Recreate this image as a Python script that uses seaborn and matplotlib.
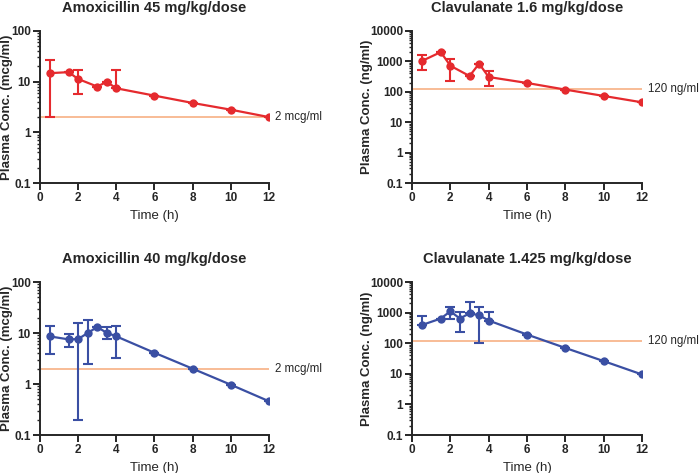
import numpy as np
import pandas as pd
import matplotlib
matplotlib.use("Agg")
import matplotlib.pyplot as plt
import matplotlib.ticker as mticker
import seaborn as sns

# time points (h)
t_amox45 = [0.5, 1.5, 2, 3, 3.5, 4, 6, 8, 10, 12]
c_amox45 = [14.7, 15.4, 11.3, 8.0, 9.9, 7.4, 5.3, 3.8, 2.8, 2.0]
hi_amox45 = [26.9, np.nan, 17.0, np.nan, np.nan, 17.0, np.nan, np.nan, np.nan, np.nan]
lo_amox45 = [2.0, np.nan, 5.7, np.nan, np.nan, np.nan, np.nan, np.nan, np.nan, np.nan]

t_clav16 = [0.5, 1.5, 2, 3, 3.5, 4, 6, 8, 10, 12]
c_clav16 = [1020, 2020, 720, 330, 840, 306, 195, 118, 73, 45]
hi_clav16 = [1570, np.nan, 1220, np.nan, np.nan, 470, np.nan, np.nan, np.nan, np.nan]
lo_clav16 = [530, np.nan, 220, np.nan, np.nan, 150, np.nan, np.nan, np.nan, np.nan]

t_amox40 = [0.5, 1.5, 2, 2.5, 3, 3.5, 4, 6, 8, 10, 12]
c_amox40 = [8.6, 7.5, 7.6, 10.0, 13.1, 10.1, 8.6, 4.1, 2.0, 0.97, 0.46]
hi_amox40 = [13.5, 9.7, 15.7, 18.0, np.nan, 13.0, 13.9, np.nan, np.nan, np.nan, np.nan]
lo_amox40 = [3.9, 5.3, 0.2, 2.5, np.nan, 7.6, 3.3, np.nan, np.nan, np.nan, np.nan]

t_clav1425 = [0.5, 1.5, 2, 2.5, 3, 3.5, 4, 6, 8, 10, 12]
c_clav1425 = [390, 640, 1100, 640, 950, 820, 550, 192, 70, 26, 9.5]
hi_clav1425 = [780, np.nan, 1530, 1050, 2230, 1570, 1080, np.nan, np.nan, np.nan, np.nan]
lo_clav1425 = [np.nan, np.nan, 610, 235, np.nan, 105, np.nan, np.nan, np.nan, np.nan, np.nan]

titles = ["Amoxicillin 45 mg/kg/dose", "Clavulanate 1.6 mg/kg/dose",
          "Amoxicillin 40 mg/kg/dose", "Clavulanate 1.425 mg/kg/dose"]
ylabels = ["Plasma Conc. (mcg/ml)", "Plasma Conc. (ng/ml)",
           "Plasma Conc. (mcg/ml)", "Plasma Conc. (ng/ml)"]
thresholds = [2, 120, 2, 120]
threshold_labels = ["2 mcg/ml", "120 ng/ml", "2 mcg/ml", "120 ng/ml"]

RED = "#E52A2E"
BLUE = "#3A4FA3"
ORANGE = "#F7B084"

sns.set_style("ticks")
plt.rcParams["font.family"] = ["Liberation Sans", "DejaVu Sans"]
plt.rcParams["axes.linewidth"] = 1.4


def draw_panel(ax, t, c, hi, lo, color, title, ylabel, thr, thr_label, ymax, ylab_x):
    c = np.array(c, dtype=float)
    up = np.nan_to_num(np.array(hi) - c, nan=0.0)
    down = np.nan_to_num(c - np.array(lo), nan=0.0)
    # error bars only where there is a value
    ax.errorbar(t, c, yerr=[down, up], fmt="none", ecolor=color,
                elinewidth=1.5, capsize=3.5, capthick=1.5, zorder=2)
    ax.axhline(thr, xmin=0, xmax=1, color=ORANGE, lw=1.2, zorder=1)
    df = pd.DataFrame({"t": t, "c": c})
    sns.lineplot(data=df, x="t", y="c", ax=ax, color=color, lw=1.6,
                 marker="o", markersize=6, markeredgewidth=0, zorder=3)
    ax.set_yscale("log")
    ax.set_xlim(0, 12)
    ax.set_ylim(0.1, ymax)
    ax.set_xticks([0, 2, 4, 6, 8, 10, 12])
    ax.yaxis.set_major_locator(mticker.LogLocator(base=10, numticks=10))
    ax.yaxis.set_minor_locator(mticker.LogLocator(base=10, subs=np.arange(2, 10), numticks=20))
    ax.yaxis.set_minor_formatter(mticker.NullFormatter())
    ax.yaxis.set_major_formatter(mticker.FuncFormatter(lambda v, p: f"{v:g}"))
    ax.tick_params(axis="both", which="major", length=5, width=1.4,
                   labelsize=8.5, pad=1.5)
    ax.tick_params(axis="y", which="minor", length=2.5, width=1.0)
    for lab in ax.get_xticklabels() + ax.get_yticklabels():
        lab.set_fontweight("bold")
    ax.set_title(title, fontsize=10.5, fontweight="bold", pad=14)
    ax.set_xlabel("Time (h)", fontsize=9.5, labelpad=4)
    ax.set_ylabel(ylabel, fontsize=9.5, fontweight="bold")
    ax.yaxis.set_label_coords(ylab_x, 0.5)
    ax.text(12.3, thr, thr_label, fontsize=8.3, va="center", ha="left",
            clip_on=False)
    sns.despine(ax=ax)


fig = plt.figure(figsize=(7, 4.73), dpi=100)
ax1 = fig.add_axes([0.0571, 0.6131, 0.327, 0.3214])
ax2 = fig.add_axes([0.5886, 0.6131, 0.3286, 0.3214])
ax3 = fig.add_axes([0.0571, 0.0803, 0.327, 0.3235])
ax4 = fig.add_axes([0.5886, 0.0803, 0.3286, 0.3235])

draw_panel(ax1, t_amox45, c_amox45, hi_amox45, lo_amox45, RED,
           titles[0], ylabels[0], thresholds[0], threshold_labels[0], 100, -0.118)
draw_panel(ax2, t_clav16, c_clav16, hi_clav16, lo_clav16, RED,
           titles[1], ylabels[1], thresholds[1], threshold_labels[1], 10000, -0.17)
draw_panel(ax3, t_amox40, c_amox40, hi_amox40, lo_amox40, BLUE,
           titles[2], ylabels[2], thresholds[2], threshold_labels[2], 100, -0.118)
draw_panel(ax4, t_clav1425, c_clav1425, hi_clav1425, lo_clav1425, BLUE,
           titles[3], ylabels[3], thresholds[3], threshold_labels[3], 10000, -0.17)

fig.savefig("out.png", dpi=100)
